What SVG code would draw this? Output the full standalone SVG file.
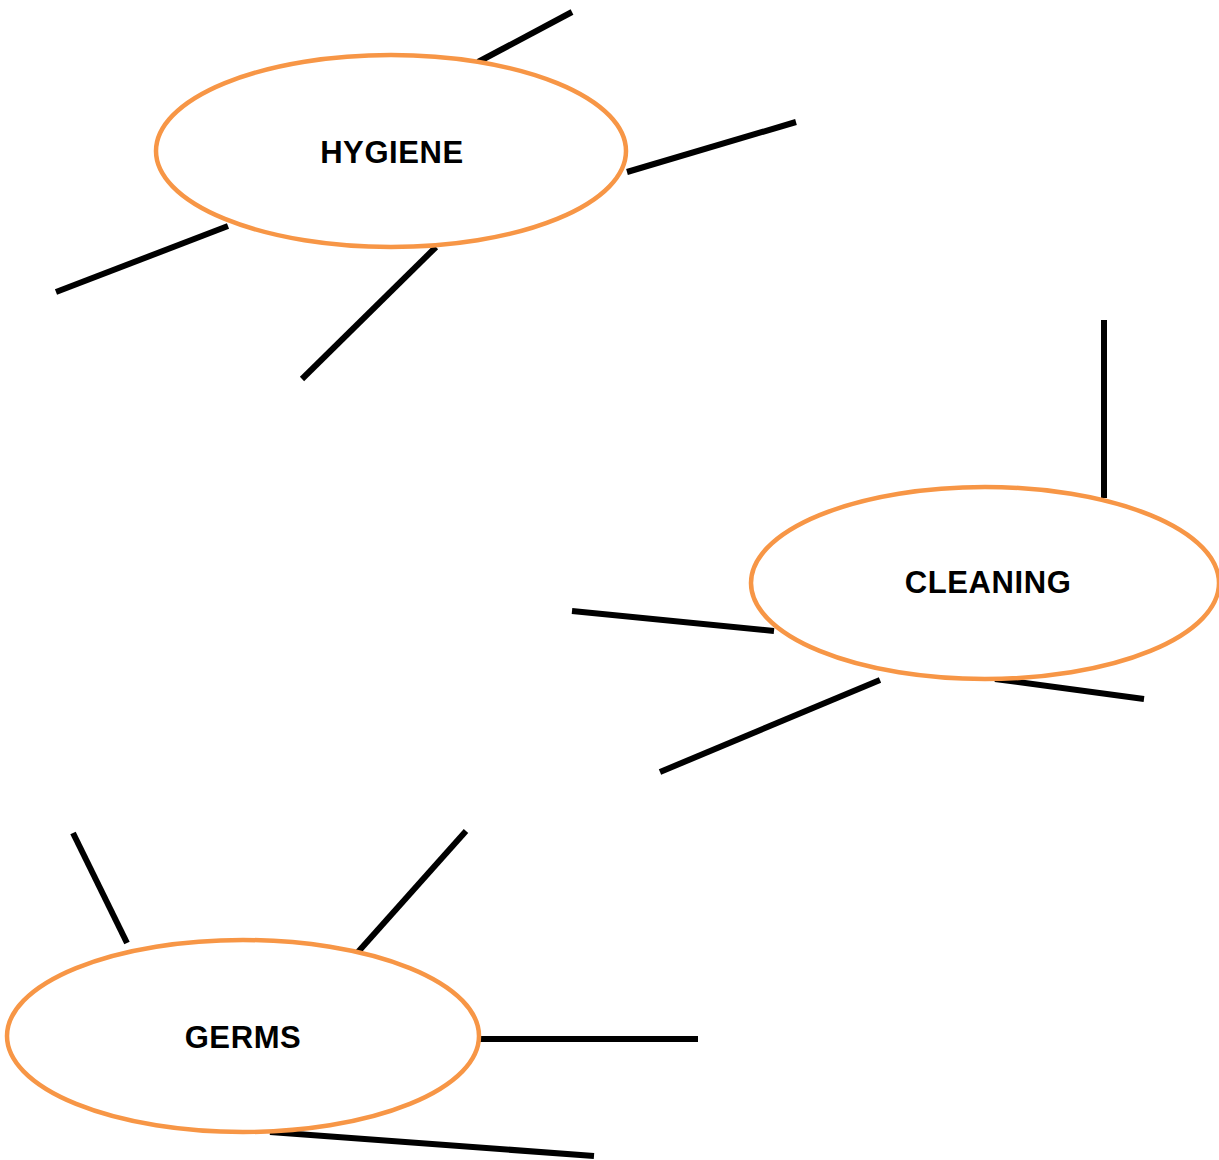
<svg xmlns="http://www.w3.org/2000/svg" width="1219" height="1160" viewBox="0 0 1219 1160">
<style>
.node ellipse{fill:#fff;stroke:#F79646;stroke-width:4.5}
.node text{font-family:"Liberation Sans",Arial,sans-serif;font-weight:bold;font-size:31px;fill:#000;text-anchor:middle;letter-spacing:0.6px}
.conn line{stroke:#000;stroke-width:6}
</style>
<rect width="1219" height="1160" fill="#fff"/>
<g id="connectors" class="conn">
<line x1="478" y1="62" x2="572" y2="12"/>
<line x1="627" y1="172" x2="796" y2="122"/>
<line x1="228" y1="226" x2="56" y2="292"/>
<line x1="436" y1="247" x2="302" y2="379"/>
<line x1="1104" y1="320" x2="1104" y2="498"/>
<line x1="572" y1="611" x2="774" y2="631"/>
<line x1="880" y1="680" x2="660" y2="772"/>
<line x1="995" y1="679" x2="1144" y2="699"/>
<line x1="73" y1="833" x2="127" y2="943"/>
<line x1="358" y1="952" x2="466" y2="831"/>
<line x1="479" y1="1039" x2="698" y2="1039"/>
<line x1="270" y1="1132" x2="594" y2="1156"/>
</g>
<g id="hygiene" class="node">
<ellipse cx="391" cy="151" rx="235" ry="96"/>
<text x="392" y="163">HYGIENE</text>
</g>
<g id="cleaning" class="node">
<ellipse cx="985" cy="583" rx="234" ry="96"/>
<text x="988" y="593">CLEANING</text>
</g>
<g id="germs" class="node">
<ellipse cx="243" cy="1036" rx="236" ry="96"/>
<text x="243" y="1048">GERMS</text>
</g>
</svg>
